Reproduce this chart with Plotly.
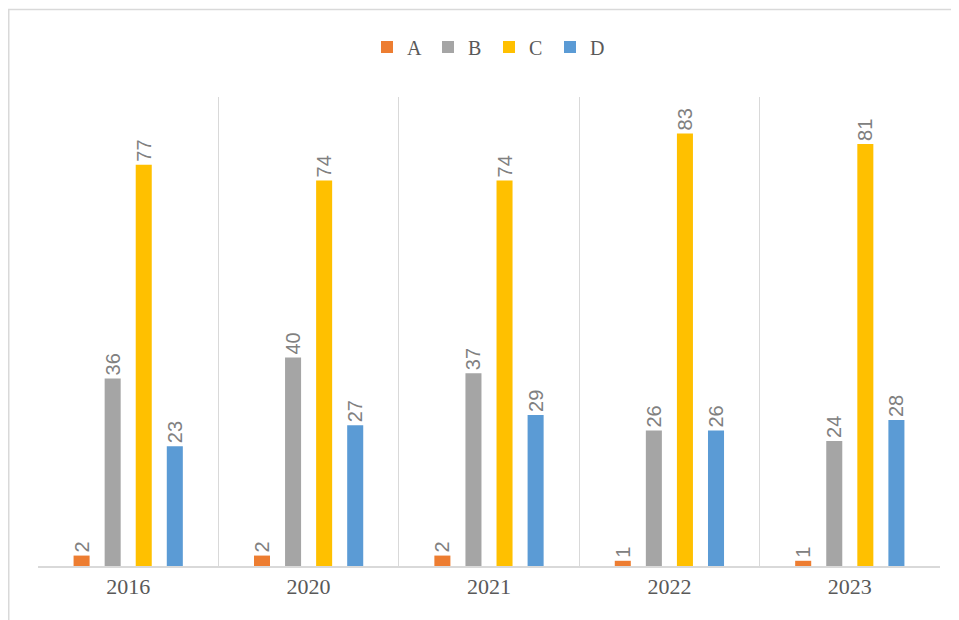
import plotly.graph_objects as go

years = ["2016", "2020", "2021", "2022", "2023"]
series_names = ["A", "B", "C", "D"]
a_vals = [2, 2, 2, 1, 1]
b_vals = [36, 40, 37, 26, 24]
c_vals = [77, 74, 74, 83, 81]
d_vals = [23, 27, 29, 26, 28]
colors = ["#ED7D31", "#A5A5A5", "#FFC000", "#5B9BD5"]

fig = go.Figure()
for name, vals, col in zip(series_names, [a_vals, b_vals, c_vals, d_vals], colors):
    fig.add_trace(go.Bar(
        x=years, y=vals, name=name, marker=dict(color=col, line=dict(width=0)),
        text=[str(v) for v in vals], textposition="outside", textangle=-90,
        constraintext="none",
        textfont=dict(family="Liberation Sans, Arial", size=20, color="#808080"),
        cliponaxis=False,
    ))

# page body has 8px offset
W, H = 951, 612
L, R, T, B = 30, 19, 89, 54
pw, ph = W - L - R, H - T - B

fig.update_layout(
    width=W, height=H,
    margin=dict(l=L, r=R, t=T, b=B),
    paper_bgcolor="white", plot_bgcolor="white",
    barmode="group", bargap=0.311, bargroupgap=0.484,
    showlegend=True,
    legend=dict(orientation="h", x=0.5, xanchor="center", y=1 + (T - 39) / ph, yanchor="middle",
                font=dict(family="Liberation Serif, Times New Roman", size=20, color="#595959"),
                itemwidth=30, entrywidth=16, entrywidthmode="pixels",
                traceorder="normal", tracegroupgap=0),
    xaxis=dict(type="category", tickson="boundaries", showgrid=True, gridcolor="#D9D9D9", gridwidth=1,
               showline=True, linecolor="#D9D9D9", linewidth=2, ticks="",
               tickfont=dict(family="Liberation Serif, Times New Roman", size=22, color="#595959"),
               range=[-0.5, 4.5]),
    yaxis=dict(range=[0, 90], showgrid=False, showticklabels=False, zeroline=False, showline=False),
    shapes=[dict(type="rect", xref="paper", yref="paper",
                 x0=(0.75 - L) / pw, x1=1.1, y0=-0.3, y1=1 + (T - 1.5) / ph,
                 line=dict(color="#D9D9D9", width=1.5), fillcolor="rgba(0,0,0,0)", layer="below")],
)

fig.write_html("out.html")
